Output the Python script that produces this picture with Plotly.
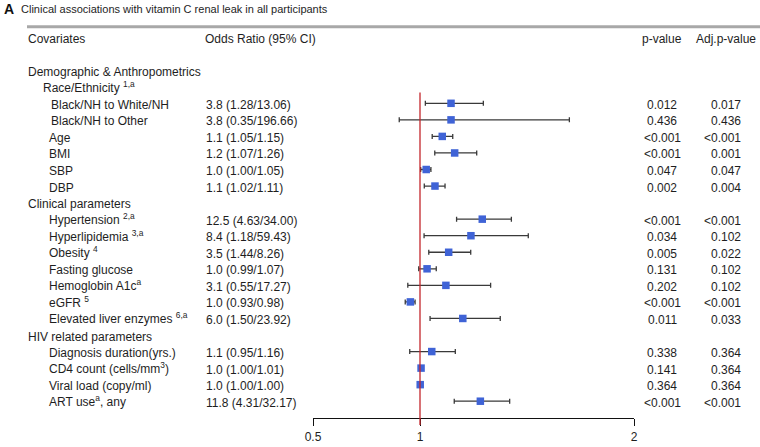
import plotly.graph_objects as go

# ---------------- data ----------------
row_labels = [
    "Demographic & Anthropometrics",
    "Race/Ethnicity <sup>1,a</sup>",
    "Black/NH to White/NH",
    "Black/NH to Other",
    "Age",
    "BMI",
    "SBP",
    "DBP",
    "Clinical parameters",
    "Hypertension <sup>2,a</sup>",
    "Hyperlipidemia <sup>3,a</sup>",
    "Obesity <sup>4</sup>",
    "Fasting glucose",
    "Hemoglobin A1c<sup>a</sup>",
    "eGFR <sup>5</sup>",
    "Elevated liver enzymes <sup>6,a</sup>",
    "HIV related parameters",
    "Diagnosis duration(yrs.)",
    "CD4 count (cells/mm<sup>3</sup>)",
    "Viral load (copy/ml)",
    "ART use<sup>a</sup>, any",
]
row_level = [0, 1, 2, 2, 1, 1, 1, 1, 0, 1, 1, 1, 1, 1, 1, 1, 0, 1, 1, 1, 1]

or_text = ["", "", "3.8 (1.28/13.06)", "3.8 (0.35/196.66)", "1.1 (1.05/1.15)",
           "1.2 (1.07/1.26)", "1.0 (1.00/1.05)", "1.1 (1.02/1.11)", "",
           "12.5 (4.63/34.00)", "8.4 (1.18/59.43)", "3.5 (1.44/8.26)",
           "1.0 (0.99/1.07)", "3.1 (0.55/17.27)", "1.0 (0.93/0.98)",
           "6.0 (1.50/23.92)", "", "1.1 (0.95/1.16)", "1.0 (1.00/1.01)",
           "1.0 (1.00/1.00)", "11.8 (4.31/32.17)"]
p_values = ["", "", "0.012", "0.436", "<0.001", "<0.001", "0.047", "0.002", "",
            "<0.001", "0.034", "0.005", "0.131", "0.202", "<0.001", "0.011", "",
            "0.338", "0.141", "0.364", "<0.001"]
adj_p_values = ["", "", "0.017", "0.436", "<0.001", "0.001", "0.047", "0.004", "",
                "<0.001", "0.102", "0.022", "0.102", "0.102", "<0.001", "0.033", "",
                "0.364", "0.364", "0.364", "<0.001"]

# plotted positions on the drawn axis
plot_rows = [2, 3, 4, 5, 6, 7, 9, 10, 11, 12, 13, 14, 15, 17, 18, 19, 20]
plot_est = [1.145, 1.145, 1.104, 1.162, 1.029, 1.070, 1.291, 1.238, 1.134,
            1.033, 1.121, 0.955, 1.200, 1.055, 1.005, 1.001, 1.282]
plot_lo = [1.025, 0.903, 1.057, 1.069, 1.003, 1.020, 1.171, 1.019, 1.041,
           0.994, 0.943, 0.931, 1.047, 0.952, 1.000, 1.000, 1.160]
plot_hi = [1.296, 1.698, 1.153, 1.265, 1.051, 1.117, 1.427, 1.506, 1.237,
           1.076, 1.330, 0.977, 1.375, 1.165, 1.010, 1.002, 1.419]

x_ticks = [0.5, 1, 2]
x_tick_labels = ["0.5", "1", "2"]

# ---------------- layout helpers ----------------
W, H = 760, 447
ROW0_PY = 38.6      # header row pixel
ROW_H = 16.55       # row height in pixels
AXIS_PY = 418
RULE_PY = 26.7


def row_of_py(py):
    return (py - ROW0_PY) / ROW_H


def px(x):
    return x / W


def trow(i):
    return i + 2


fig = go.Figure()

ys = [trow(r) - 0.09 for r in plot_rows]
fig.add_trace(go.Scatter(
    x=plot_est, y=ys, mode="markers",
    marker=dict(symbol="square", size=7.5, color="#3f63d6"),
    error_x=dict(type="data", symmetric=False,
                 array=[h - e for h, e in zip(plot_hi, plot_est)],
                 arrayminus=[e - l for e, l in zip(plot_est, plot_lo)],
                 color="#3a3a3a", thickness=1.3, width=2.5),
    hoverinfo="skip", showlegend=False, cliponaxis=False,
))

TXT = "#1e1e1e"
FONT = "Liberation Sans, Arial, sans-serif"
ann = []


def add_text(x, y, text, anchor="left", size=12):
    shift = 1.5 if "<sup>" in text else 0
    ann.append(dict(x=px(x), y=y, xref="paper", yref="y", text=text,
                    showarrow=False, xanchor=anchor, yanchor="middle", yshift=shift,
                    font=dict(size=size, color=TXT, family=FONT)))


add_text(26, 0, "Covariates")
add_text(203, 0, "Odds Ratio (95% CI)")
add_text(662, 0, "p-value", anchor="center")
add_text(726, 0, "Adj.p-value", anchor="center")

level_x = {0: 26, 1: 46.5, 2: 49}
for i, lab in enumerate(row_labels):
    lx = level_x[row_level[i]]
    if i == 1:
        lx = 41
    add_text(lx, trow(i), lab)
    if or_text[i]:
        add_text(204, trow(i), or_text[i])
    if p_values[i]:
        add_text(662, trow(i), p_values[i], anchor="center")
    if adj_p_values[i]:
        add_text(743, trow(i), adj_p_values[i], anchor="right")

ann.append(dict(x=px(2), y=1 - 9.5 / H, xref="paper", yref="paper", text="<b>A</b>",
                showarrow=False, xanchor="left", yanchor="middle",
                font=dict(size=14, color="#111", family=FONT)))
ann.append(dict(x=px(19), y=1 - 9.5 / H, xref="paper", yref="paper",
                text="Clinical associations with vitamin C renal leak in all participants",
                showarrow=False, xanchor="left", yanchor="middle",
                font=dict(size=11, color=TXT, family=FONT)))

shapes = [
    # grey rule under the title
    dict(type="line", xref="paper", yref="paper", x0=px(27), x1=1.0,
         y0=1 - RULE_PY / H, y1=1 - RULE_PY / H,
         line=dict(color="#a8a8a8", width=3), layer="above"),
    # red reference line at 1
    dict(type="line", xref="x", yref="paper", x0=1, x1=1,
         y0=1 - 92.5 / H, y1=1 - 425 / H, line=dict(color="#c3262b", width=1.3),
         layer="above"),
]

y_top = row_of_py(0)
y_bot = row_of_py(AXIS_PY)

fig.update_layout(
    width=W, height=H, autosize=False,
    margin=dict(l=0, r=0, t=0, b=0, pad=0),
    paper_bgcolor="white", plot_bgcolor="rgba(0,0,0,0)",
    annotations=ann, shapes=shapes,
    xaxis=dict(domain=[313 / W, 634 / W], range=[0.5, 2], tickvals=x_ticks,
               ticktext=x_tick_labels, showgrid=False, zeroline=False,
               showline=True, linecolor="#111", linewidth=1.3,
               ticks="outside", ticklen=7, tickcolor="#111", tickwidth=1.3,
               tickfont=dict(size=12, color=TXT, family=FONT), fixedrange=True,
               automargin=False),
    yaxis=dict(domain=[1 - AXIS_PY / H, 1], range=[y_bot, y_top], visible=False,
               showgrid=False, zeroline=False, fixedrange=True, automargin=False),
    showlegend=False,
)

fig.write_html(
    "out.html",
    config={"displayModeBar": False, "responsive": False},
    post_script="document.body.style.margin='0px';document.body.style.overflow='hidden';",
)
